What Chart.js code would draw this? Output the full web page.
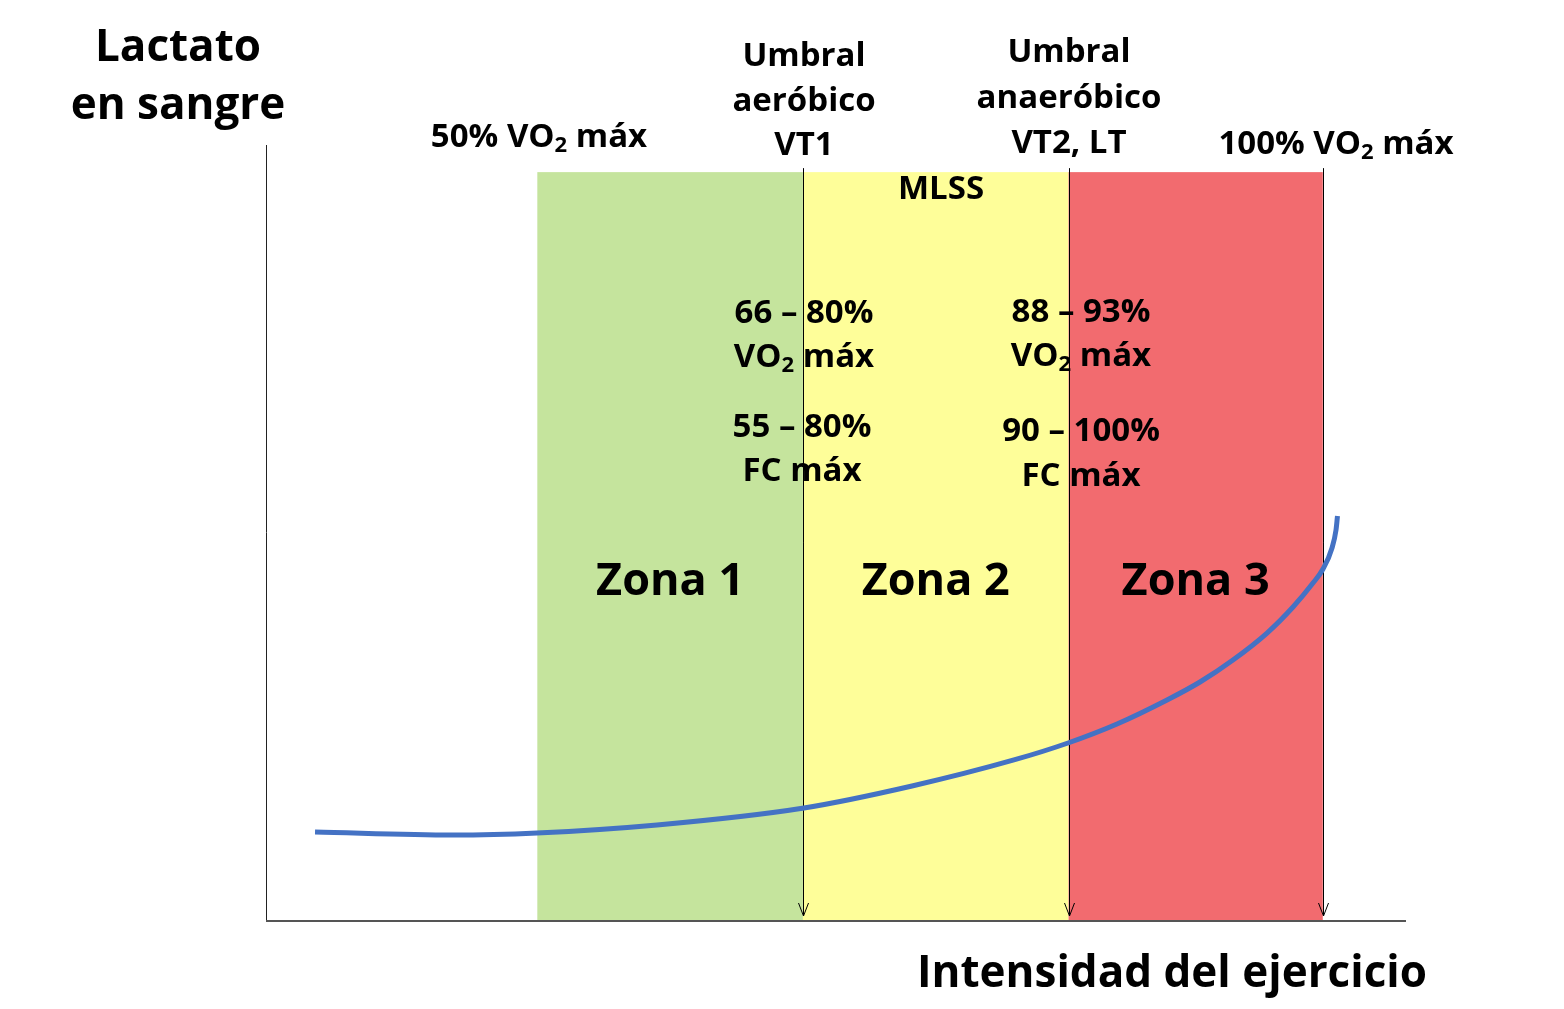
<!DOCTYPE html>
<html>
<head>
<meta charset="utf-8">
<script src="https://cdn.jsdelivr.net/npm/chart.js@4.4.1/dist/chart.umd.min.js"></script>
<style>
  html, body { margin: 0; padding: 0; background: #fff; }
  #wrap { width: 1564px; height: 1009px; }
</style>
</head>
<body>
<div id="wrap"><canvas id="lactateChart"></canvas></div>
<script>
// Curve: blood lactate vs exercise intensity (x 0-100, y 0-10 arbitrary units)
const curveX = [4.30, 16.40, 23.77, 34.30, 47.19, 56.67, 65.61, 70.35, 74.65, 79.04,
                81.93, 84.82, 87.81, 90.09, 91.84, 92.72, 93.51, 93.86, 93.99];
const curveY = [1.135, 1.097, 1.123, 1.226, 1.445, 1.729, 2.065, 2.284, 2.529, 2.839,
                3.071, 3.355, 3.703, 4.039, 4.348, 4.529, 4.800, 5.032, 5.213];

// Zone boundaries on the intensity axis and their names
const zoneEdges = [23.8, 47.1, 70.4, 92.7];
const zoneNames = ['Zona 1', 'Zona 2', 'Zona 3'];
const zoneColors = ['#C5E49D', '#FEFE99', '#F26B6F'];
const zoneTop = 9.65;

// Threshold markers (arrows) sit on these edges
const markerEdges = [47.1, 70.4, 92.7];

const FONT = '"Open Sans", "Noto Sans", sans-serif';

// draw text, with "_2" meaning a subscript 2
function drawText(ctx, str, cx, cy, size) {
    ctx.save();
    ctx.translate(cx, cy);
    const parts = str.split('_');
    const big = 'bold ' + size + 'px ' + FONT;
    const small = 'bold ' + Math.round(size * 0.66) + 'px ' + FONT;
    let total = 0;
    const pieces = [];
    parts.forEach((p, i) => {
        if (i > 0) {
            ctx.font = small;
            const w = ctx.measureText(p[0]).width;
            pieces.push({ t: p[0], f: small, w: w, dy: size * 0.24 });
            total += w;
            p = p.slice(1);
        }
        ctx.font = big;
        const w = ctx.measureText(p).width;
        pieces.push({ t: p, f: big, w: w, dy: 0 });
        total += w;
    });
    let x = -total / 2;
    ctx.fillStyle = '#000';
    ctx.textBaseline = 'middle';
    ctx.textAlign = 'left';
    pieces.forEach(pc => {
        ctx.font = pc.f;
        ctx.fillText(pc.t, x, pc.dy);
        x += pc.w;
    });
    ctx.restore();
}

const backdrop = {
    id: 'backdrop',
    beforeDatasetsDraw(chart) {
        const ctx = chart.ctx;
        const xs = chart.scales.x, ys = chart.scales.y;
        const area = chart.chartArea;
        ctx.save();
        // coloured zones
        for (let i = 0; i < zoneNames.length; i++) {
            const x0 = xs.getPixelForValue(zoneEdges[i]);
            const x1 = xs.getPixelForValue(zoneEdges[i + 1]);
            const y0 = ys.getPixelForValue(zoneTop);
            ctx.fillStyle = zoneColors[i];
            ctx.fillRect(x0, y0, x1 - x0, area.bottom - y0);
        }
        // threshold lines with open arrowheads
        ctx.strokeStyle = '#000';
        ctx.lineWidth = 1;
        markerEdges.forEach(v => {
            const x = Math.round(xs.getPixelForValue(v)) + 0.5;
            const top = ys.getPixelForValue(zoneTop);
            const bot = area.bottom - 4;
            ctx.beginPath();
            ctx.moveTo(x, top - 4);
            ctx.lineTo(x, bot);
            ctx.moveTo(x - 5, bot - 13);
            ctx.lineTo(x, bot);
            ctx.lineTo(x + 5, bot - 13);
            ctx.stroke();
        });
        // axes
        ctx.strokeStyle = '#222';
        ctx.lineWidth = 1;
        ctx.beginPath();
        ctx.moveTo(area.left + 0.5, area.top);
        ctx.lineTo(area.left + 0.5, area.bottom);
        ctx.stroke();
        ctx.strokeStyle = '#555';
        ctx.lineWidth = 2;
        ctx.beginPath();
        ctx.moveTo(area.left, area.bottom + 1);
        ctx.lineTo(area.right, area.bottom + 1);
        ctx.stroke();
        ctx.restore();
    },
    afterDatasetsDraw(chart) {
        const ctx = chart.ctx;
        const xs = chart.scales.x;
        const px = v => xs.getPixelForValue(v);
        // zone names
        for (let i = 0; i < zoneNames.length; i++) {
            drawText(ctx, zoneNames[i], (px(zoneEdges[i]) + px(zoneEdges[i + 1])) / 2, 582, 45);
        }
        // axis titles
        drawText(ctx, 'Lactato', 178, 48, 44);
        drawText(ctx, 'en sangre', 178, 106, 44);
        drawText(ctx, 'Intensidad del ejercicio', 1172, 974, 44);
        // headers over the zones
        drawText(ctx, '50% VO_2 máx', 539, 138, 33);
        drawText(ctx, 'Umbral', 804, 57, 33);
        drawText(ctx, 'aeróbico', 804, 102, 33);
        drawText(ctx, 'VT1', 804, 146, 33);
        drawText(ctx, 'Umbral', 1069, 53, 33);
        drawText(ctx, 'anaeróbico', 1069, 99, 33);
        drawText(ctx, 'VT2, LT', 1069, 144, 33);
        drawText(ctx, '100% VO_2 máx', 1336, 145, 33);
        drawText(ctx, 'MLSS', 941, 190, 33);
        // threshold ranges
        drawText(ctx, '66 – 80%', 804, 314, 33);
        drawText(ctx, 'VO_2 máx', 804, 358, 33);
        drawText(ctx, '55 – 80%', 802, 428, 33);
        drawText(ctx, 'FC máx', 802, 472, 33);
        drawText(ctx, '88 – 93%', 1081, 313, 33);
        drawText(ctx, 'VO_2 máx', 1081, 357, 33);
        drawText(ctx, '90 – 100%', 1081, 432, 33);
        drawText(ctx, 'FC máx', 1081, 477, 33);
    }
};

const ctx = document.getElementById('lactateChart').getContext('2d');
new Chart(ctx, {
    type: 'line',
    data: {
        datasets: [{
            label: 'Lactato',
            data: curveX.map((x, i) => ({ x: x, y: curveY[i] })),
            borderColor: '#4472C4',
            borderWidth: 5,
            pointRadius: 0,
            cubicInterpolationMode: 'monotone',
            fill: false
        }]
    },
    options: {
        responsive: true,
        maintainAspectRatio: false,
        animation: false,
        layout: { padding: { left: 266, right: 158, top: 145, bottom: 89 } },
        plugins: {
            legend: { display: false },
            tooltip: { enabled: false }
        },
        scales: {
            x: { type: 'linear', min: 0, max: 100, display: false },
            y: { type: 'linear', min: 0, max: 10, display: false }
        }
    },
    plugins: [backdrop]
});
</script>
</body>
</html>
